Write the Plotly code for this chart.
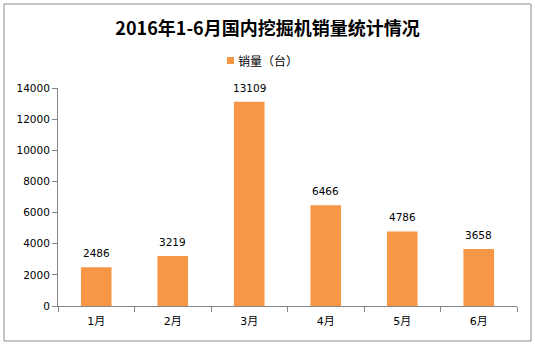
import plotly.graph_objects as go

months = ["1月", "2月", "3月", "4月", "5月", "6月"]
sales = [2486, 3219, 13109, 6466, 4786, 3658]
series_name = "销量（台）"
title_text = "2016年1-6月国内挖掘机销量统计情况"
y_ticks = [0, 2000, 4000, 6000, 8000, 10000, 12000, 14000]

bar_color = "#F79646"
axis_color = "#868686"
cjk_font = "Noto Sans CJK SC, sans-serif"
num_font = "DejaVu Sans, Noto Sans CJK SC, sans-serif"

W, H = 535, 345
L, R, T, B = 58, 18, 88, 39
PW, PH = W - L - R, H - T - B


def px_x(x):
    return (x - L) / PW


def px_y(y):
    return (H - B - y) / PH


fig = go.Figure(
    go.Bar(
        x=months,
        y=sales,
        name=series_name,
        marker=dict(color=bar_color, line=dict(width=0)),
        width=0.4,
        showlegend=False,
    )
)

# value labels above each bar
value_labels = [
    dict(
        x=m,
        y=v,
        xref="x",
        yref="y",
        text=str(v),
        showarrow=False,
        yanchor="middle",
        yshift=14,
        font=dict(size=10.5, color="#000000", family=num_font),
    )
    for m, v in zip(months, sales)
]

legend_label = dict(
    text=series_name,
    xref="paper",
    yref="paper",
    x=px_x(236),
    y=px_y(60),
    xanchor="left",
    yanchor="middle",
    showarrow=False,
    font=dict(size=12, family=cjk_font, color="#000000"),
)

fig.update_layout(
    width=W,
    height=H,
    margin=dict(l=L, r=R, t=T, b=B, autoexpand=False),
    paper_bgcolor="white",
    plot_bgcolor="white",
    font=dict(family=num_font, size=10.5, color="#000000"),
    showlegend=False,
    title=dict(
        text="<b>" + title_text + "</b>",
        x=0.5,
        xanchor="center",
        y=1 - 29 / H,
        yanchor="middle",
        font=dict(size=18, color="#000000", family=cjk_font),
    ),
    bargap=0.6,
    xaxis=dict(
        type="category",
        tickson="boundaries",
        ticks="outside",
        ticklen=5,
        tickcolor=axis_color,
        showline=True,
        linecolor=axis_color,
        linewidth=1,
        showgrid=False,
        tickfont=dict(size=11, family=num_font),
        ticklabelstandoff=5,
        fixedrange=True,
    ),
    yaxis=dict(
        range=[0, 14000],
        tickvals=y_ticks,
        ticktext=[str(v) for v in y_ticks],
        ticks="outside",
        ticklen=5,
        tickcolor=axis_color,
        showline=True,
        linecolor=axis_color,
        linewidth=1,
        showgrid=False,
        zeroline=False,
        tickfont=dict(size=10.5, family=num_font),
        fixedrange=True,
    ),
    shapes=[
        # chart frame
        dict(
            type="rect",
            xref="paper",
            yref="paper",
            x0=px_x(4),
            x1=px_x(531),
            y0=px_y(341),
            y1=px_y(4),
            line=dict(color="#8C8C8C", width=1),
            fillcolor="rgba(0,0,0,0)",
            layer="below",
        ),
        # legend swatch
        dict(
            type="rect",
            xref="paper",
            yref="paper",
            x0=px_x(227),
            x1=px_x(234),
            y0=px_y(64),
            y1=px_y(57),
            line=dict(width=0),
            fillcolor=bar_color,
        ),
    ],
    annotations=value_labels + [legend_label],
)

fig.write_html("out.html")
